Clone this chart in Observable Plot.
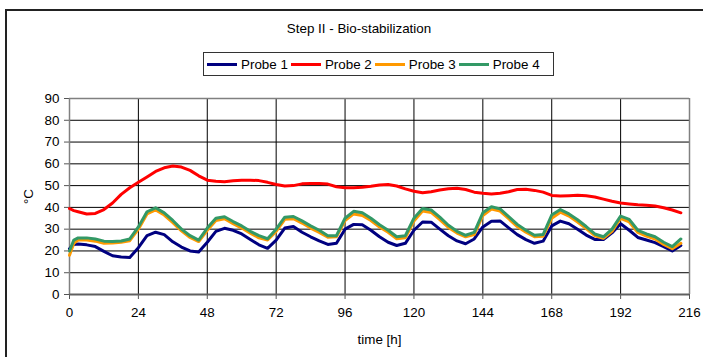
<!DOCTYPE html>
<html>
<head>
<meta charset="utf-8">
<script src="https://cdn.jsdelivr.net/npm/d3@7"></script>
<script src="https://cdn.jsdelivr.net/npm/@observablehq/plot@0.6"></script>
<style>
  html, body { margin: 0; padding: 0; background: #fff; overflow: hidden; }
  body { width: 703px; height: 357px; position: relative; font-family: "Liberation Sans", Arial, sans-serif; }
  #frame { position: absolute; left: 5px; top: 9px; width: 760px; height: 420px; border: 2px solid #222; box-sizing: border-box; }
  #title { position: absolute; left: 0; top: 21px; width: 718px; text-align: center; font-size: 13.4px; color: #000; }
  #legend { position: absolute; left: 203px; top: 52px; width: 351px; height: 24px; border: 1px solid #333; box-sizing: border-box; display: flex; align-items: center; font-size: 13.4px; }
  .item { display: flex; align-items: center; margin-left: 3px; }
  .sw { display: inline-block; width: 30px; height: 3px; margin-right: 4px; }
  #chart { position: absolute; left: 0; top: 80px; }
</style>
</head>
<body>
<div id="frame"></div>
<div id="title">Step II - Bio-stabilization</div>
<div id="legend"></div>
<div id="chart"></div>
<script>
const seriesNames = ["Probe 1", "Probe 2", "Probe 3", "Probe 4"];
const seriesColors = ["#000080", "#FF0000", "#FF9900", "#339966"];
const xTicks = [0, 24, 48, 72, 96, 120, 144, 168, 192, 216];
const yTicks = [0, 10, 20, 30, 40, 50, 60, 70, 80, 90];

const hours = [0, 1.5, 3, 6, 9, 12, 15, 18, 21, 24, 27, 30, 33, 36, 39, 42, 45, 48, 51, 54, 57, 60, 63, 66, 69,
  72, 75, 78, 81, 84, 87, 90, 93, 96, 99, 102, 105, 108, 111, 114, 117, 120, 123, 126, 129, 132, 135, 138, 141,
  144, 147, 150, 153, 156, 159, 162, 165, 168, 171, 174, 177, 180, 183, 186, 189, 192, 195, 198, 201, 204, 207, 210, 213];

const probe1 = [21, 23, 23.2, 22.8, 22, 19.8, 17.8, 17.2, 17, 21.5, 27, 28.6, 27.5, 24.2, 21.8, 20, 19.5, 24, 29, 30.4, 29.5, 27.8, 25.3, 22.8, 21.2,
  25, 30.5, 31.2, 28.6, 26.5, 24.6, 23, 23.5, 30, 32.2, 32, 29.5, 26.5, 24, 22.5, 23.5, 29.5, 33.3, 33.2, 30, 27, 24.6, 23.3, 25.5,
  31, 33.6, 33.8, 30.6, 27.5, 25.2, 23.5, 24.5, 31.5, 33.7, 32.5, 30, 27.3, 25.3, 25.2, 28.3, 32.5, 29.5, 26.2, 25, 23.8, 22, 20, 22.5];

const probe2 = [39.5, 38.5, 38, 37, 37.2, 39, 42, 46, 49, 51.5, 54, 56.5, 58.2, 59, 58.5, 57, 54.5, 52.5, 52, 51.8, 52.2, 52.5, 52.5, 52.3, 51.5,
  50.5, 49.8, 50, 50.8, 51, 51, 50.7, 49.5, 49, 49, 49.2, 49.7, 50.3, 50.5, 49.8, 48.5, 47.4, 46.7, 47.2, 48, 48.6, 48.8, 48.2, 47,
  46.5, 46.2, 46.5, 47.2, 48.2, 48.3, 47.8, 47, 45.5, 45.2, 45.4, 45.6, 45.3, 44.8, 43.8, 42.8, 42, 41.6, 41.2, 41, 40.6, 39.8, 38.8, 37.5];

const probe3 = [18, 23.5, 25, 25, 24.5, 23.5, 23.6, 24, 24.7, 30, 37, 38.8, 36.5, 33, 29.2, 26.2, 24.3, 29.5, 34, 34.8, 32.5, 30.5, 28.2, 26, 25,
  29, 34.5, 34.8, 32.8, 30.5, 28.5, 26.3, 26.5, 34, 37, 36.3, 34, 31, 28.6, 25.6, 26, 33.8, 38.3, 37.7, 34.4, 30.8, 28.2, 26.5, 27.5,
  36.3, 39.2, 38.3, 34.8, 31.2, 28.6, 26.5, 26.8, 35, 37.8, 36, 33.3, 30.3, 27, 25.8, 29, 35, 33.3, 28.5, 26.8, 25.5, 23, 21, 23.5];

const probe4 = [20, 25, 26, 26, 25.5, 24.5, 24.3, 24.6, 25.5, 31, 38, 39.8, 37.5, 34, 30, 27, 25, 30.5, 35, 35.7, 33.5, 31.5, 29, 27, 25.6,
  30, 35.5, 35.8, 33.8, 31.5, 29.5, 27, 27, 35, 38.2, 37.5, 35, 32, 29.5, 26.5, 27, 35, 39.5, 38.8, 35.5, 31.8, 29, 27.2, 28.5,
  37.5, 40.3, 39.3, 35.8, 32.2, 29.5, 27.2, 27.5, 36.5, 39, 37, 34.3, 31.2, 27.8, 26.5, 30, 36, 34.5, 29.5, 27.8, 26.5, 24, 22, 25.5];

const allSeries = [probe1, probe2, probe3, probe4];
const data = [];
allSeries.forEach((vals, si) => {
  vals.forEach((v, i) => data.push({series: seriesNames[si], t: hours[i], v}));
});

// legend (HTML)
const legend = document.getElementById("legend");
seriesNames.forEach((name, i) => {
  const it = document.createElement("span");
  it.className = "item";
  const sw = document.createElement("span");
  sw.className = "sw";
  sw.style.background = seriesColors[i];
  it.appendChild(sw);
  it.appendChild(document.createTextNode(name));
  legend.appendChild(it);
});

const chart = Plot.plot({
  width: 703,
  height: 277,
  marginLeft: 69,
  marginRight: 14,
  marginTop: 18,
  marginBottom: 63,
  style: {fontFamily: "'Liberation Sans', Arial, sans-serif", fontSize: "13.4px", color: "#000", background: "transparent"},
  x: {domain: [0, 216], ticks: xTicks},
  y: {domain: [0, 90], ticks: yTicks},
  color: {domain: seriesNames, range: seriesColors},
  marks: [
    Plot.gridY(yTicks.slice(1, -1), {stroke: "#000", strokeOpacity: 1, strokeWidth: 1}),
    Plot.gridX(xTicks.slice(1, -1), {stroke: "#000", strokeOpacity: 1, strokeWidth: 1}),
    Plot.ruleY([90], {stroke: "#808080", strokeWidth: 1.5}),
    Plot.ruleX([216], {stroke: "#808080", strokeWidth: 1.5}),
    Plot.axisY(yTicks, {tickSize: 5, tickPadding: 5, stroke: "#555", label: "°C", labelAnchor: "center", labelArrow: "none", labelOffset: 46}),
    Plot.axisX(xTicks, {tickSize: 5, tickPadding: 8, stroke: "#555", label: "time [h]", labelAnchor: "center", labelArrow: "none", labelOffset: 49}),
    Plot.ruleX([0], {stroke: "#808080", strokeWidth: 1.5}),
    Plot.ruleY([0], {stroke: "#606060", strokeWidth: 2}),
    Plot.line(data, {x: "t", y: "v", z: "series", stroke: "series", strokeWidth: 3, curve: "linear"})
  ]
});
document.getElementById("chart").appendChild(chart);
</script>
</body>
</html>
